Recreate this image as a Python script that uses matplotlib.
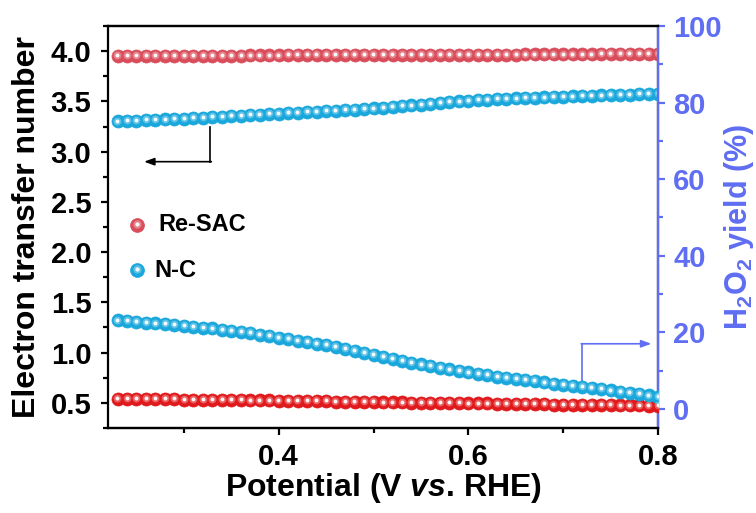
import matplotlib
matplotlib.use('Agg')
import matplotlib.pyplot as plt
from matplotlib.transforms import offset_copy
from matplotlib.ticker import MultipleLocator

plt.rcParams['font.family'] = ['Liberation Sans', 'DejaVu Sans']
plt.rcParams['font.weight'] = 'bold'
plt.rcParams['mathtext.fontset'] = 'custom'
plt.rcParams['mathtext.rm'] = 'Liberation Sans:bold'
plt.rcParams['mathtext.bf'] = 'Liberation Sans:bold'
plt.rcParams['mathtext.it'] = 'Liberation Sans:italic:bold'

# potential (V vs. RHE)
potential = [0.23, 0.24, 0.25, 0.26, 0.27, 0.28, 0.29, 0.30, 0.31, 0.32,
             0.33, 0.34, 0.35, 0.36, 0.37, 0.38, 0.39, 0.40, 0.41, 0.42,
             0.43, 0.44, 0.45, 0.46, 0.47, 0.48, 0.49, 0.50, 0.51, 0.52,
             0.53, 0.54, 0.55, 0.56, 0.57, 0.58, 0.59, 0.60, 0.61, 0.62,
             0.63, 0.64, 0.65, 0.66, 0.67, 0.68, 0.69, 0.70, 0.71, 0.72,
             0.73, 0.74, 0.75, 0.76, 0.77, 0.78, 0.79, 0.80]

# electron transfer number
n_resac = [3.950, 3.950, 3.951, 3.951, 3.952, 3.952, 3.953, 3.953, 3.954, 3.954,
           3.955, 3.955, 3.956, 3.956, 3.957, 3.957, 3.958, 3.958, 3.959, 3.959,
           3.960, 3.960, 3.960, 3.961, 3.961, 3.961, 3.962, 3.962, 3.962, 3.963,
           3.963, 3.963, 3.964, 3.964, 3.964, 3.965, 3.965, 3.965, 3.965, 3.966,
           3.966, 3.966, 3.966, 3.967, 3.967, 3.967, 3.967, 3.968, 3.968, 3.968,
           3.968, 3.969, 3.969, 3.969, 3.969, 3.970, 3.970, 3.970]
n_nc = [3.300, 3.304, 3.308, 3.312, 3.316, 3.320, 3.324, 3.328, 3.332, 3.337,
        3.342, 3.347, 3.352, 3.357, 3.363, 3.368, 3.373, 3.378, 3.383, 3.388,
        3.393, 3.398, 3.403, 3.408, 3.413, 3.418, 3.424, 3.430, 3.436, 3.444,
        3.452, 3.460, 3.468, 3.476, 3.484, 3.492, 3.499, 3.506, 3.511, 3.516,
        3.521, 3.525, 3.529, 3.533, 3.537, 3.540, 3.544, 3.547, 3.550, 3.553,
        3.556, 3.559, 3.562, 3.565, 3.568, 3.571, 3.574, 3.577]

# H2O2 yield (%)
h2o2_resac = [2.6, 2.6, 2.6, 2.5, 2.5, 2.5, 2.5, 2.4, 2.4, 2.4,
              2.4, 2.3, 2.3, 2.3, 2.2, 2.2, 2.2, 2.1, 2.1, 2.1,
              2.0, 2.0, 2.0, 1.9, 1.9, 1.9, 1.8, 1.8, 1.7, 1.7,
              1.7, 1.6, 1.6, 1.6, 1.5, 1.5, 1.5, 1.4, 1.4, 1.4,
              1.3, 1.3, 1.3, 1.2, 1.2, 1.2, 1.1, 1.1, 1.1, 1.0,
              1.0, 1.0, 1.0, 0.9, 0.9, 0.9, 0.8, 0.8]
h2o2_nc = [23.1, 22.9, 22.7, 22.5, 22.3, 22.1, 21.9, 21.7, 21.5, 21.2,
           21.0, 20.7, 20.4, 20.1, 19.8, 19.4, 19.0, 18.6, 18.2, 17.8,
           17.4, 17.0, 16.6, 16.1, 15.6, 15.1, 14.6, 14.1, 13.6, 13.1,
           12.6, 12.1, 11.6, 11.2, 10.7, 10.3, 9.9, 9.5, 9.1, 8.8,
           8.4, 8.1, 7.8, 7.5, 7.2, 6.9, 6.6, 6.3, 6.0, 5.7,
           5.4, 5.1, 4.8, 4.5, 4.2, 3.9, 3.5, 3.1]

red_top = '#d94d5b'
red_bot = '#e01a1c'
cyan = '#19a7dc'
blue = '#5f6ef2'

fig = plt.figure(figsize=(7.56, 5.13), dpi=100)
ax = fig.add_axes([0.1429, 0.1657, 0.7275, 0.7836])
ax2 = ax.twinx()


def spheres(axis, x, y, color, ms=9.4, **kw):
    # shaded ball: base, soft light core, white highlight
    axis.plot(x, y, 'o', ms=ms, color=color, mec=color, mew=0.5, zorder=3, **kw)
    tr = offset_copy(kw.get('transform', axis.transData), fig=fig, x=-0.2, y=0.6, units='points')
    axis.plot(x, y, 'o', ms=ms * 0.6, color='white', alpha=0.3, mew=0, zorder=4, transform=tr)
    axis.plot(x, y, 'o', ms=ms * 0.3, color='white', alpha=0.95, mew=0, zorder=5, transform=tr)


spheres(ax, potential, n_resac, red_top)
spheres(ax, potential, n_nc, cyan)
spheres(ax2, potential, h2o2_resac, red_bot)
spheres(ax2, potential, h2o2_nc, cyan)

ax.set_xlim(0.22, 0.80)
ax.set_ylim(0.25, 4.25)
ax2.set_ylim(-5, 100)

ax.xaxis.set_major_locator(MultipleLocator(0.2))
ax.xaxis.set_minor_locator(MultipleLocator(0.1))
ax.yaxis.set_major_locator(MultipleLocator(0.5))
ax.yaxis.set_minor_locator(MultipleLocator(0.25))
ax2.yaxis.set_major_locator(MultipleLocator(20))
ax2.yaxis.set_minor_locator(MultipleLocator(10))
ax.set_xticks([0.4, 0.6, 0.8])
ax.set_xticklabels(['0.4', '0.6', '0.8'])

for a in (ax, ax2):
    for s in a.spines.values():
        s.set_linewidth(1.6)
ax2.spines['right'].set_color(blue)
ax2.spines['left'].set_visible(False)

ax.tick_params(axis='both', which='major', direction='out', length=5, width=1.6,
               labelsize=21, pad=7)
ax.tick_params(axis='both', which='minor', direction='out', length=3.5, width=1.6)
ax.tick_params(axis='x', pad=6)
ax2.tick_params(axis='y', which='major', direction='out', length=5, width=1.6,
                colors=blue, labelsize=21, pad=6)
ax2.tick_params(axis='y', which='minor', direction='out', length=3.5, width=1.6, colors=blue)

ax.set_xlabel(r'Potential (V $\mathit{vs}$. RHE)', fontsize=23, fontweight='bold', labelpad=0)
ax.set_ylabel('Electron transfer number', fontsize=23, fontweight='bold', labelpad=6)
ax2.set_ylabel(r'H$_\mathbf{2}$O$_\mathbf{2}$ yield (%)', fontsize=22, fontweight='bold',
               color=blue)
ax2.yaxis.set_label_coords(1.116, 0.5)

# legend drawn by hand
spheres(ax, [0.053], [0.505], red_top, ms=10, transform=ax.transAxes, clip_on=False)
spheres(ax, [0.053], [0.393], cyan, ms=10, transform=ax.transAxes, clip_on=False)
ax.text(0.091, 0.505, 'Re-SAC', transform=ax.transAxes, fontsize=17, fontweight='bold', va='center')
ax.text(0.085, 0.393, 'N-C', transform=ax.transAxes, fontsize=17, fontweight='bold', va='center')

# arrows pointing to each axis
ax.plot([0.328, 0.328], [3.245, 2.90], color='black', lw=1.2, zorder=2)
ax.annotate('', xy=(0.258, 2.90), xytext=(0.329, 2.90),
            arrowprops=dict(arrowstyle='-|>,head_length=0.6,head_width=0.22', color='black', lw=1.2,
                            shrinkA=0, shrinkB=0))
ax2.plot([0.720, 0.720], [7.3, 17.0], color=blue, lw=1.2, zorder=2)
ax2.annotate('', xy=(0.793, 17.0), xytext=(0.719, 17.0),
             arrowprops=dict(arrowstyle='-|>,head_length=0.6,head_width=0.22', color=blue, lw=1.2,
                             shrinkA=0, shrinkB=0))

fig.savefig('out.png', dpi=100)
